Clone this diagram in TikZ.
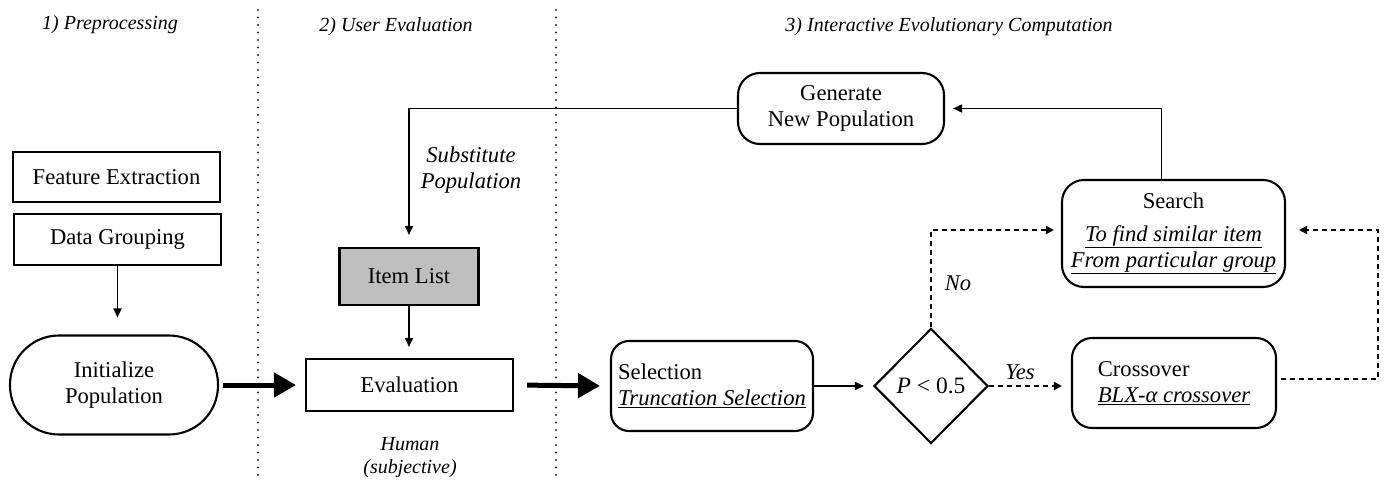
\documentclass[tikz,border=0pt]{standalone}
\usepackage{fontspec}
\setmainfont{Liberation Serif}
\usetikzlibrary{arrows.meta,shapes.geometric,calc}
\begin{document}
\begin{tikzpicture}[x=1pt,y=-1pt,
  every node/.style={font=\fontsize{22.6}{26}\selectfont},
  box/.style={draw,line width=2.1pt,inner sep=0pt,align=center},
  rbox/.style={box,rounded corners=20pt},
  head/.style={font=\fontsize{20}{24}\selectfont\itshape},
  lbl/.style={font=\fontsize{22.6}{26}\selectfont\itshape,align=center},
  thinarrow/.style={line width=1.7pt,-{Triangle[length=9pt,width=8pt]}},
  thickarrow/.style={line width=5pt,-{Triangle[length=22pt,width=24pt]}},
  dasharrow/.style={line width=1.9pt,dash pattern=on 5pt off 4pt,-{Triangle[length=8pt,width=8pt]}},
  sepline/.style={line width=2.3pt,dash pattern=on 0pt off 7.5pt,line cap=round,black!85}]
\useasboundingbox (0,0) rectangle (1387,482);

% separators
\draw[sepline] (258,10) -- (258,482);
\draw[sepline] (556,10) -- (556,482);

% headings
\node[head] (h1) at (110,25) {1) Preprocessing};
\node[head] (h2) at (396,27) {2) User Evaluation};
\node[head] (h3) at (949,27) {3) Interactive Evolutionary Computation};

% column 1
\node[box,minimum width=207pt,minimum height=50pt] (feat) at (116.5,177) {Feature Extraction};
\node[box,minimum width=207pt,minimum height=51pt] (group) at (117.5,239.5) {Data Grouping};
\node[box,rounded corners=49pt,minimum width=208pt,minimum height=99pt] (init) at (114,385) {Initialize\\Population};

% column 2
\node[box,fill=gray!50,minimum width=139pt,minimum height=57pt] (item) at (409,276.5) {Item List};
\node[box,minimum width=207pt,minimum height=52pt] (eval) at (409.5,385) {Evaluation};
\node[lbl] (subst) at (471,170) {Substitute\\Population};
\node[lbl,font=\fontsize{20}{23}\selectfont\itshape] (human) at (410,458) {Human\\(subjective)};

% column 3
\node[rbox,rounded corners=18pt,minimum width=202pt,minimum height=90pt,align=left] (sel) at (712,386) {Selection\\\textit{\underline{Truncation Selection}}};
\node[draw,line width=2.1pt,diamond,inner sep=0pt,minimum width=114pt,minimum height=115pt,font=\fontsize{23.5}{26}\selectfont] (dia) at (931,386) {\textit{P} < 0.5};
\node[rbox,minimum width=204pt,minimum height=90pt,align=left] (cross) at (1174,383) {Crossover\\\textit{\underline{BLX-α crossover}}};
\node[rbox,rounded corners=22pt,minimum width=223pt,minimum height=107pt] (search) at (1173.5,233.5) {Search\\[7pt]\textit{\underline{To find similar item}}\\\textit{\underline{From particular group}}};
\node[rbox,rounded corners=22pt,minimum width=206pt,minimum height=71pt] (gen) at (841,108.5) {Generate\\New Population};

\node[lbl] (yes) at (1020,372) {Yes};
\node[lbl] (no) at (958,283) {No};

\coordinate (ny) at (0,230);
\coordinate (rc) at (1378,230);

% connectors
\draw[thinarrow,shorten >=17pt] (group.south) -- (init.north -| group.south);
\draw[thickarrow,shorten <=4pt,shorten >=9pt] (init.east) -- (eval.west);
\draw[thickarrow,shorten <=13pt,shorten >=10pt] (eval.east) -- (sel.west);
\draw[thinarrow,shorten >=11pt] (item.south) -- (eval.north -| item.south);
\draw[thinarrow,shorten >=12pt] (gen.west) -| (item.north);
\draw[thinarrow,shorten >=9pt] (sel.east) -- (dia.west);
\draw[dasharrow,shorten >=9pt] (dia.east) -- (dia.east -| cross.west);
\draw[dasharrow,shorten >=7pt] (dia.north) |- (search.west |- ny);
\draw[dasharrow,shorten <=4pt,shorten >=13pt] ([yshift=4pt]cross.east) -| (rc) -- (search.east |- rc);
\draw[thinarrow,shorten >=8pt] ([xshift=-12pt]search.north) |- (gen.east);
\end{tikzpicture}
\end{document}
